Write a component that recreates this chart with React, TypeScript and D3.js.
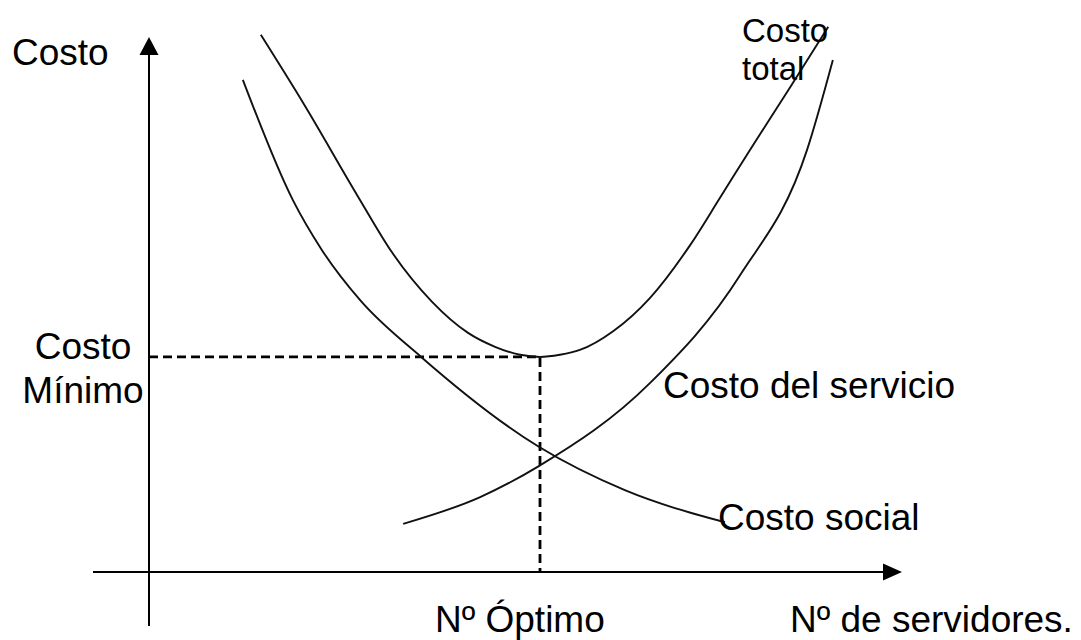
import * as d3 from 'd3';
import { useEffect, useRef } from 'react';

// nº de servidores (x) y costo (y)
const totalN = [2.86, 3.94, 5.4, 6.21, 7.24, 8.16, 8.85, 9.49, 10, 10.51, 11.02, 11.87, 12.81, 13.84, 14.6, 15.37, 16.39, 17.37];
const totalC = [100.4, 87.7, 69.5, 59.8, 50.5, 44.7, 42.1, 40.6, 40.2, 40.6, 41.5, 45, 51.2, 61.1, 69.9, 78.9, 90.5, 101.9];

const socialN = [2.4, 3.68, 4.42, 5.4, 6.96, 9.97, 12.17, 14.73];
const socialC = [92, 69.5, 60.2, 50.8, 40.2, 23.4, 15.3, 9.3];

const servicioN = [6.5, 8.47, 9.97, 12.81, 15.12, 16.83, 17.49];
const servicioC = [9, 14, 19.8, 35.3, 55.5, 78.9, 95.7];

const optimoN = 10;
const minimoC = 40.2;

function App() {
    const elementRef = useRef<HTMLDivElement>(null);

    useEffect(() => {
        const element = d3.select(elementRef.current);
        element.selectAll('svg').remove();
        const width = 1081;
        const height = 640;

        const svg = element
            .append('svg')
            .attr('width', width)
            .attr('height', height)
            .style('position', 'absolute')
            .style('left', 0)
            .style('top', 0)
            .style('background', '#fff');

        // escalas
        const x = d3.scaleLinear().domain([0, 20]).range([149, 931]);
        const y = d3.scaleLinear().domain([0, 100]).range([572, 37]);

        const line = d3.line<[number, number]>()
            .x(d => x(d[0]))
            .y(d => y(d[1]))
            .curve(d3.curveMonotoneX);

        const zip = (a: number[], b: number[]) => a.map((v, i) => [v, b[i]] as [number, number]);

        // ejes
        svg.append('line')
            .attr('x1', x(0)).attr('y1', 626)
            .attr('x2', x(0)).attr('y2', 52)
            .attr('stroke', '#000').attr('stroke-width', 2);
        svg.append('path')
            .attr('d', `M${x(0)},${y(100)} L${x(0) - 9.5},55 L${x(0) + 9.5},55 Z`)
            .attr('fill', '#000');

        svg.append('line')
            .attr('x1', 93).attr('y1', y(0))
            .attr('x2', 886).attr('y2', y(0))
            .attr('stroke', '#000').attr('stroke-width', 2);
        svg.append('path')
            .attr('d', `M902,${y(0)} L883,${y(0) - 8.5} L883,${y(0) + 8.5} Z`)
            .attr('fill', '#000');

        // líneas punteadas del óptimo
        svg.append('path')
            .attr('d', `M${x(0)},${y(minimoC)} H${x(optimoN)} V${y(0)}`)
            .attr('fill', 'none')
            .attr('stroke', '#000')
            .attr('stroke-width', 2.8)
            .attr('stroke-dasharray', '9,5');

        // curvas
        [zip(totalN, totalC), zip(socialN, socialC), zip(servicioN, servicioC)].forEach(pts => {
            svg.append('path')
                .datum(pts)
                .attr('d', line)
                .attr('fill', 'none')
                .attr('stroke', '#111')
                .attr('stroke-width', 1.9);
        });

        // textos
        const font = '"Liberation Sans", Arial, sans-serif';
        const label = (t: string, tx: number, ty: number, size = 37, anchor = 'start') =>
            svg.append('text')
                .attr('x', tx).attr('y', ty)
                .attr('font-family', font)
                .attr('font-size', size)
                .attr('text-anchor', anchor)
                .attr('fill', '#000')
                .text(t);

        label('Costo', 12, 65);
        label('Costo', 83, 359, 37, 'middle');
        label('Mínimo', 83, 403, 37, 'middle');
        label('Costo', 742, 42, 33);
        label('total', 742, 80, 33);
        label('Costo del servicio', 663, 398);
        label('Costo social', 718, 530);
        label('Nº Óptimo', 435, 632);
        label('Nº de servidores.', 790, 632);
    }, []);

    return <div ref={elementRef}></div>;
}

export default App;
